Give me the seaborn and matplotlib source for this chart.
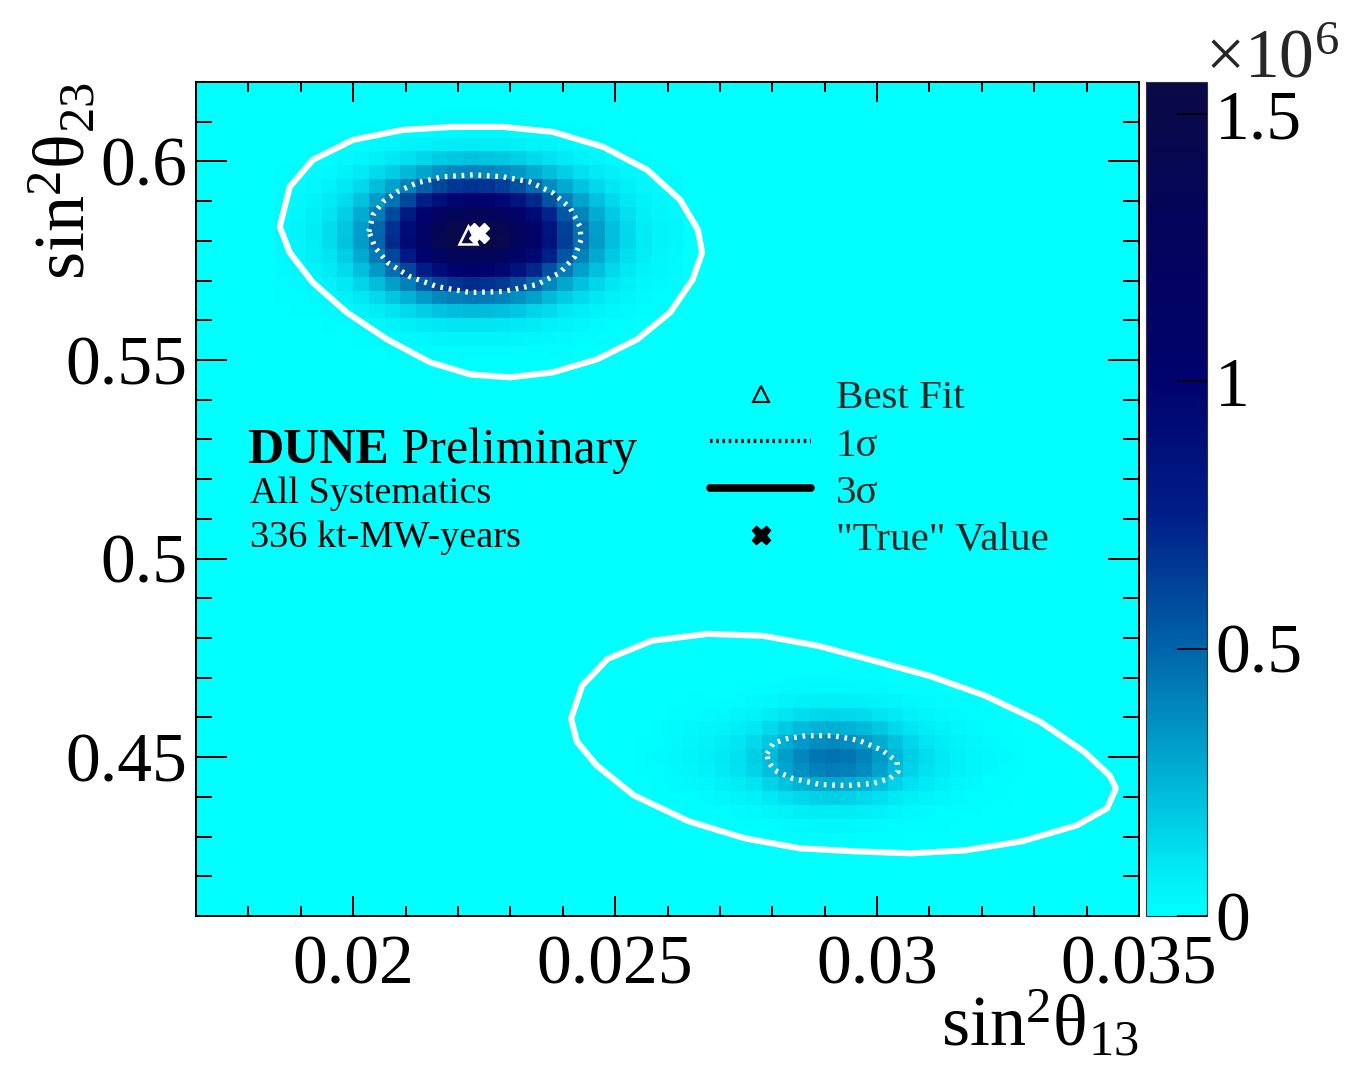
import numpy as np
import pandas as pd
import matplotlib
matplotlib.use("Agg")
import matplotlib.pyplot as plt
from matplotlib.colors import LinearSegmentedColormap
from matplotlib.lines import Line2D
from matplotlib.ticker import MultipleLocator, FixedLocator, FuncFormatter
import seaborn as sns

# ---------------- data ----------------
# histogram binning
x_range = (0.017, 0.035)
y_range = (0.41, 0.62)
n_xbins = 60
n_ybins = 60

# posterior density: two islands, described by per-bin column/row profiles
blob1_peak = 1.56e6
blob1_x_first_bin = 5
blob1_x_profile = [0.02, 0.03, 0.05, 0.08, 0.13, 0.21, 0.32, 0.45, 0.59, 0.75, 0.88, 0.96, 1.00,
                   0.98, 0.93, 0.83, 0.70, 0.55, 0.41, 0.30, 0.21, 0.14, 0.09, 0.05, 0.03, 0.02]
blob1_y_first_bin = 40
blob1_y_profile = [0.01, 0.03, 0.07, 0.15, 0.28, 0.45, 0.66, 0.86, 1.00, 0.98, 0.85, 0.65,
                   0.44, 0.26, 0.13, 0.05, 0.02, 0.005]

blob2_peak = 0.46e6
blob2_x_first_bin = 28
blob2_x_profile = [0.02, 0.04, 0.07, 0.10, 0.14, 0.19, 0.26, 0.36, 0.52, 0.70, 0.86, 0.96, 1.00,
                   0.97, 0.88, 0.72, 0.54, 0.38, 0.27, 0.19, 0.13, 0.09, 0.06, 0.04, 0.02, 0.01]
blob2_y_first_bin = 4
blob2_y_profile = [0.01, 0.03, 0.07, 0.17, 0.36, 0.64, 0.92, 1.00, 0.84, 0.58, 0.32, 0.15,
                   0.06, 0.02]

# 3 sigma contours
c3_upper_x = [0.01860, 0.01879, 0.01923, 0.02000, 0.02095, 0.02190, 0.02286, 0.02381, 0.02477,
              0.02561, 0.02624, 0.02658, 0.02666, 0.02648, 0.02605, 0.02542, 0.02465, 0.02381,
              0.02299, 0.02223, 0.02147, 0.02065, 0.01988, 0.01923, 0.01879]
c3_upper_y = [0.58357, 0.59362, 0.60040, 0.60543, 0.60794, 0.60869, 0.60869, 0.60744, 0.60367,
              0.59789, 0.59035, 0.58281, 0.57703, 0.57025, 0.56196, 0.55517, 0.55015, 0.54688,
              0.54563, 0.54638, 0.54940, 0.55517, 0.56196, 0.56950, 0.57703]
c3_lower_x = [0.02416, 0.02437, 0.02486, 0.02570, 0.02677, 0.02782, 0.02887, 0.02994, 0.03099,
              0.03206, 0.03311, 0.03395, 0.03444, 0.03456, 0.03439, 0.03381, 0.03276, 0.03169,
              0.03064, 0.02958, 0.02853, 0.02748, 0.02641, 0.02536, 0.02465, 0.02427]
c3_lower_y = [0.45970, 0.46799, 0.47477, 0.47929, 0.48105, 0.48055, 0.47804, 0.47427, 0.47050,
              0.46548, 0.45894, 0.45140, 0.44537, 0.44211, 0.43708, 0.43281, 0.42879, 0.42653,
              0.42578, 0.42628, 0.42703, 0.42954, 0.43382, 0.44035, 0.44789, 0.45392]

# 1 sigma contours
c1_upper_x = [0.02030, 0.02038, 0.02057, 0.02084, 0.02122, 0.02171, 0.02229, 0.02286, 0.02337,
              0.02381, 0.02414, 0.02433, 0.02435, 0.02423, 0.02395, 0.02351, 0.02286, 0.02223,
              0.02160, 0.02108, 0.02066, 0.02042]
c1_upper_y = [0.58231, 0.58658, 0.58985, 0.59236, 0.59462, 0.59613, 0.59663, 0.59613, 0.59487,
              0.59211, 0.58834, 0.58357, 0.58030, 0.57603, 0.57201, 0.56899, 0.56724, 0.56698,
              0.56849, 0.57100, 0.57452, 0.57829]
c1_lower_x = [0.02790, 0.02801, 0.02828, 0.02866, 0.02916, 0.02967, 0.03011, 0.03038, 0.03040,
              0.03024, 0.02992, 0.02942, 0.02891, 0.02839, 0.02805, 0.02792]
c1_lower_y = [0.45090, 0.45341, 0.45467, 0.45542, 0.45542, 0.45417, 0.45165, 0.44889, 0.44638,
              0.44462, 0.44336, 0.44286, 0.44311, 0.44462, 0.44663, 0.44889]

best_fit = (0.0222, 0.5815)
true_value = (0.0224, 0.582)

x_ticks_major = 0.005
x_ticks_minor = 0.001
y_ticks_major = 0.05
y_ticks_minor = 0.01
cbar_ticks = [0, 0.5e6, 1.0e6, 1.5e6]
cbar_labels = ["0", "0.5", "1", "1.5"]
z_max = 1.56e6

legend_labels = ["Best Fit", "1σ", "3σ", "\"True\" Value"]

# colour palette stops
cmap_pos = [0.0, 0.06, 0.16, 0.32, 0.48, 0.64, 0.82, 1.0]
cmap_cols = ["#00ffff", "#00e8f4", "#00b4d6", "#0064aa", "#001e88", "#00026e", "#03045c", "#0a0a46"]

# ---------------- build histogram table ----------------
x_edges = np.linspace(x_range[0], x_range[1], n_xbins + 1)
y_edges = np.linspace(y_range[0], y_range[1], n_ybins + 1)
xc = 0.5 * (x_edges[:-1] + x_edges[1:])
yc = 0.5 * (y_edges[:-1] + y_edges[1:])

grid = np.zeros((n_ybins, n_xbins))
for peak, x0, xp, y0, yp in [
    (blob1_peak, blob1_x_first_bin, blob1_x_profile, blob1_y_first_bin, blob1_y_profile),
    (blob2_peak, blob2_x_first_bin, blob2_x_profile, blob2_y_first_bin, blob2_y_profile),
]:
    px = np.zeros(n_xbins)
    px[x0:x0 + len(xp)] = xp
    py = np.zeros(n_ybins)
    py[y0:y0 + len(yp)] = yp
    grid += peak * np.outer(py, px)

XX, YY = np.meshgrid(xc, yc)
df = pd.DataFrame({"s13": XX.ravel(), "s23": YY.ravel(), "w": grid.ravel()})

# ---------------- style ----------------
sns.set_style("ticks")
plt.rcParams["font.family"] = ["Liberation Serif", "DejaVu Sans"]
plt.rcParams["mathtext.fontset"] = "custom"
plt.rcParams["mathtext.rm"] = "Liberation Serif"
plt.rcParams["mathtext.it"] = "Liberation Serif:italic"
plt.rcParams["mathtext.bf"] = "Liberation Serif:bold"
plt.rcParams["axes.axisbelow"] = False

cmap = LinearSegmentedColormap.from_list("dune", list(zip(cmap_pos, cmap_cols)))

W, H = 1352, 1071
fig = plt.figure(figsize=(W / 100, H / 100), dpi=100)
ax = fig.add_axes([196 / W, 1 - 916 / H, 943 / W, 834 / H])
cax = fig.add_axes([1146 / W, 1 - 916 / H, 61 / W, 834 / H])
ax.set_facecolor("#00ffff")

sns.histplot(data=df, x="s13", y="s23", weights="w", bins=[x_edges, y_edges],
             cmap=cmap, vmin=0, vmax=z_max, thresh=None, cbar=True, cbar_ax=cax, ax=ax)
ax.set_axisbelow(False)
cax.set_axisbelow(False)

# contours
for cx, cy in [(c3_upper_x, c3_upper_y), (c3_lower_x, c3_lower_y)]:
    ax.plot(cx + cx[:1], cy + cy[:1], color="white", lw=4.4, solid_joinstyle="round",
            solid_capstyle="round", zorder=3)
for cx, cy in [(c1_upper_x, c1_upper_y), (c1_lower_x, c1_lower_y)]:
    ax.plot(cx + cx[:1], cy + cy[:1], color="white", lw=3.8, ls=(0, (0.5, 1.1)),
            dash_capstyle="butt", zorder=3)

ax.plot([best_fit[0]], [best_fit[1]], ls="none", marker="^", mfc="none", mec="white",
        ms=13, mew=1.8, zorder=4)
ax.plot([true_value[0]], [true_value[1]], ls="none", marker="X", color="white",
        mec="white", ms=14, zorder=5)

ax.set_xlim(*x_range)
ax.set_ylim(*y_range)

fmt = FuncFormatter(lambda v, p: "%g" % round(v, 6))
ax.xaxis.set_major_locator(MultipleLocator(x_ticks_major))
ax.xaxis.set_minor_locator(MultipleLocator(x_ticks_minor))
ax.yaxis.set_major_locator(MultipleLocator(y_ticks_major))
ax.yaxis.set_minor_locator(MultipleLocator(y_ticks_minor))
ax.xaxis.set_major_formatter(fmt)
ax.yaxis.set_major_formatter(fmt)

ax.tick_params(which="both", direction="in", top=True, right=True, width=1.44,
               color="black", labelcolor="black", labelsize=50)
ax.tick_params(axis="x", which="major", length=14.4, pad=14)
ax.tick_params(axis="x", which="minor", length=7.2)
ax.tick_params(axis="y", which="major", length=22.3, pad=6)
ax.tick_params(axis="y", which="minor", length=11.5)
for s in ax.spines.values():
    s.set_color("black")
    s.set_linewidth(1.44)
    s.set_zorder(6)

ax.set_xlabel("sin$^{2}$θ$_{13}$", fontsize=52, loc="right", color="black")
ax.xaxis.set_label_coords(1.0, -0.088)
ax.set_ylabel("sin$^{2}$θ$_{23}$", fontsize=52, loc="top", color="black")
ax.yaxis.set_label_coords(-0.102, 1.0)

# colorbar
cb = ax.collections[0].colorbar
cax.yaxis.set_major_locator(FixedLocator(cbar_ticks))
cax.set_yticklabels(cbar_labels)
cax.minorticks_off()
cax.tick_params(direction="in", length=21.6, width=1.2, labelsize=50, pad=6,
                right=True, left=False, color="black", labelcolor="black")
cb.outline.set_linewidth(0.8)
cb.outline.set_edgecolor("#333333")
fig.text(1205 / W, 1 - 77 / H, "×10$^{6}$", fontsize=50, va="baseline", ha="left")

# legend
handles = [
    Line2D([], [], ls="none", marker="^", mfc="none", mec="black", ms=12, mew=1.5),
    Line2D([], [], color="black", lw=3, ls=(0, (0.6, 0.9)), dash_capstyle="butt"),
    Line2D([], [], color="black", lw=5.5),
    Line2D([], [], ls="none", marker="X", color="black", ms=13),
]
ax.legend(handles, legend_labels, loc="upper left", bbox_to_anchor=(0.545, 0.643),
          frameon=False, fontsize=29.5, handlelength=2.47, handletextpad=0.6,
          labelspacing=0.23, borderpad=0, borderaxespad=0, numpoints=1)

# annotation text
t1 = ax.text(0.0541, 0.543, "DUNE", transform=ax.transAxes, fontsize=36,
             fontweight="bold", va="baseline", color="black")
ax.annotate(" Preliminary", xy=(1, 0), xycoords=t1, fontsize=36, va="bottom",
            ha="left", color="black")
ax.text(0.0573, 0.495, "All Systematics", transform=ax.transAxes, fontsize=27.5,
        va="baseline", color="black")
ax.text(0.0573, 0.4425, "336 kt-MW-years", transform=ax.transAxes, fontsize=27.5,
        va="baseline", color="black")

fig.savefig("out.png", dpi=100, facecolor="white")
